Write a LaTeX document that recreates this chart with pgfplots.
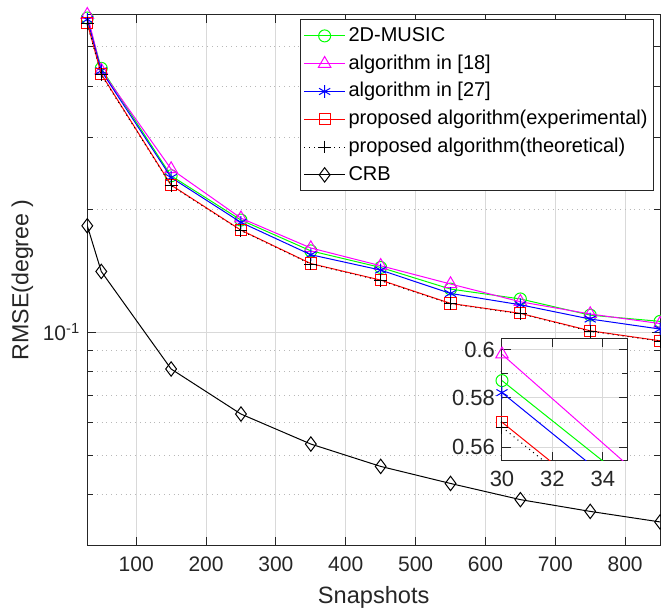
\documentclass[border=0pt]{standalone}
\usepackage{fontspec}
\setmainfont{Liberation Sans}
\usepackage{pgfplots}
\usepackage{pgfplotstable}
\pgfplotsset{compat=1.18}
\definecolor{mgray}{rgb}{0.15,0.15,0.15}
\definecolor{ggrid}{rgb}{0.85,0.85,0.85}
\definecolor{mgrid}{rgb}{0.72,0.72,0.72}
\definecolor{mmag}{rgb}{1,0,1}

\pgfplotstableread{
x    music  alg18  alg27  propE  propT  crb
30   0.587  0.598  0.582  0.570  0.568  0.182
50   0.442  0.437  0.436  0.428  0.426  0.1407
150  0.2412 0.2506 0.2389 0.2289 0.2282 0.0812
250  0.188  0.190  0.1855 0.1776 0.1771 0.0630
350  0.158  0.1606 0.1546 0.1471 0.1467 0.0532
450  0.1439 0.1453 0.1418 0.1340 0.1336 0.0469
550  0.1274 0.1311 0.1243 0.1175 0.1172 0.0426
650  0.1205 0.1186 0.1166 0.1111 0.1108 0.0389
750  0.1100 0.1107 0.1076 0.1007 0.1004 0.0364
850  0.1062 0.1049 0.1017 0.0952 0.0950 0.0343
}\datatab

\begin{document}
\begin{tikzpicture}
\pgfplotsset{
  every axis/.append style={
    tick align=inside,
    axis line style={mgray, line width=0.5pt},
    tick style={mgray, line width=0.5pt},
    ticklabel style={font=\fontsize{10.5}{12}\selectfont, text=mgray},
    /pgf/number format/assume math mode=true,
    major grid style={ggrid, line width=0.5pt},
    minor grid style={mgrid, dotted, line width=0.5pt},
  },
  mlines/.style={line width=0.5pt, mark size=3pt, mark options={solid}},
}
\begin{axis}[
  name=main, at={(0,0)}, anchor=south west,
  scale only axis, width=286.4pt, height=265.8pt,
  xmin=30, xmax=850, ymode=log, ymin=0.03, ymax=0.6,
  xtick={100,200,...,800},
  ytick={0.1}, yticklabels={10\textsuperscript{-1}},
  minor ytick={0.03,0.04,0.05,0.06,0.07,0.08,0.09,0.2,0.3,0.4,0.5,0.6},
  minor xtick={},
  grid=both,
  clip mode=individual,
  xticklabel style={yshift=-2pt},
  xlabel={Snapshots}, ylabel={RMSE(degree )},
  xlabel style={font=\fontsize{11.8}{14}\selectfont, text=mgray, at={(axis description cs:0.5,-0.098)}, anchor=center},
  ylabel style={font=\fontsize{11.6}{14}\selectfont, text=mgray, at={(axis description cs:-0.1135,0.5)}, anchor=center},
  legend cell align=left,
  legend image code/.code={\draw[mark repeat=2,mark phase=2,#1] plot coordinates {(0pt,0pt)(10.2pt,0pt)(20.4pt,0pt)};},
  legend style={at={(1,1)}, xshift=-3pt, yshift=-2.7pt, anchor=north east,
    font=\fontsize{10}{12}\selectfont, draw=mgray, line width=0.5pt, inner sep=1.5pt, row sep=1pt,
    nodes={inner ysep=1.2pt, inner xsep=1.5pt, text height=8pt, text depth=2.5pt}},
]
\addplot[mlines, color=green, mark=o] table[x=x, y=music] {\datatab};
\addlegendentry{2D-MUSIC}
\addplot[mlines, color=mmag, mark=triangle, mark size=3.6pt] table[x=x, y=alg18] {\datatab};
\addlegendentry{algorithm in [18]}
\addplot[mlines, color=blue, mark=asterisk, mark size=3.2pt] table[x=x, y=alg27] {\datatab};
\addlegendentry{algorithm in [27]}
\addplot[mlines, color=red, mark=square, mark size=2.8pt] table[x=x, y=propE] {\datatab};
\addlegendentry{proposed algorithm(experimental)}
\addplot[mlines, color=black, dotted, mark=+, mark size=3.2pt] table[x=x, y=propT] {\datatab};
\addlegendentry{proposed algorithm(theoretical)}
\addplot[mlines, color=black, mark=diamond, mark size=3.6pt] table[x=x, y=crb] {\datatab};
\addlegendentry{CRB}
\end{axis}

\begin{axis}[
  at={(207.35pt,42.85pt)}, anchor=south west,
  scale only axis, width=63pt, height=60.5pt,
  xmin=30, xmax=35, ymode=log, ymin=0.555, ymax=0.6045,
  xtick={30,32,34},
  ytick={0.56,0.58,0.6}, yticklabels={0.56,0.58,0.6},
  minor ytick={0.57,0.59},
  minor xtick={},
  grid=both,
  axis background/.style={fill=white},
  clip mode=individual,
  ticklabel style={font=\fontsize{11}{13}\selectfont},
  xticklabel style={yshift=-2pt},
]
\addplot[mlines, color=green, mark=o, mark indices={1}] table[x=x, y=music] {\datatab};
\addplot[mlines, color=mmag, mark=triangle, mark size=3.6pt, mark indices={1}] table[x=x, y=alg18] {\datatab};
\addplot[mlines, color=blue, mark=asterisk, mark size=3.2pt, mark indices={1}] table[x=x, y=alg27] {\datatab};
\addplot[mlines, color=red, mark=square, mark size=2.8pt, mark indices={1}] table[x=x, y=propE] {\datatab};
\addplot[mlines, color=black, dotted, mark=+, mark size=3.2pt, mark indices={1}] table[x=x, y=propT] {\datatab};
\end{axis}
\pgfresetboundingbox
\path[use as bounding box] (-43.65pt,-34.65pt) rectangle (286.85pt,272.85pt);
\end{tikzpicture}
\end{document}
